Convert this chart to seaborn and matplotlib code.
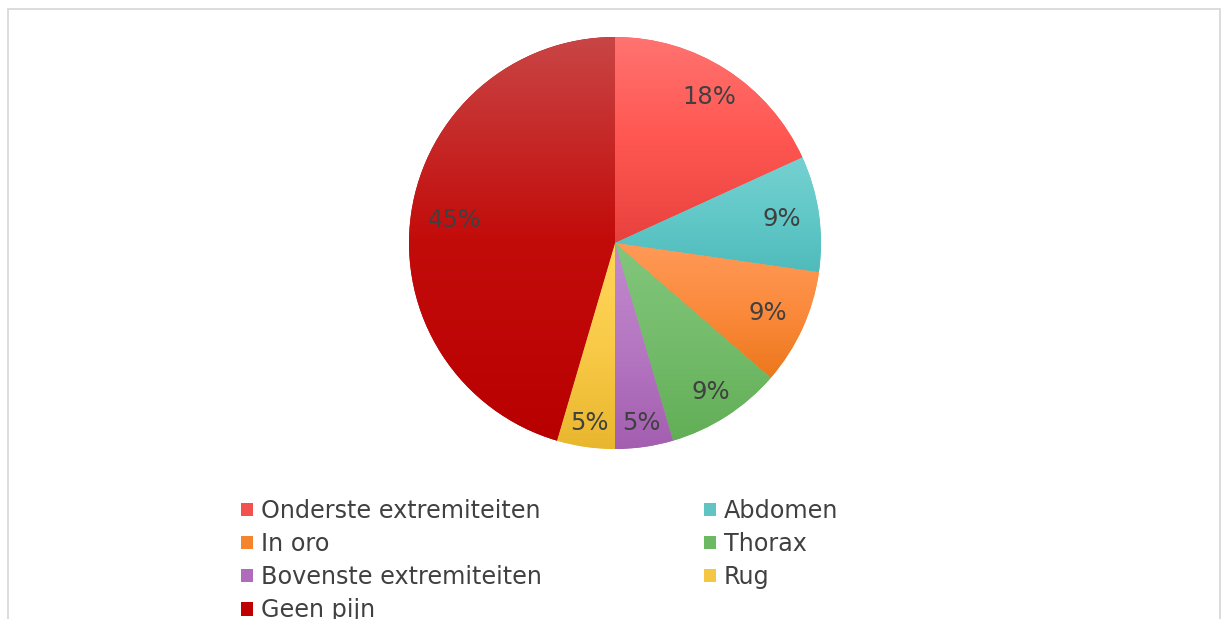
import numpy as np
import matplotlib
matplotlib.use("Agg")
import matplotlib.pyplot as plt
from matplotlib.colors import LinearSegmentedColormap
from matplotlib.patches import Rectangle, Patch
import seaborn as sns

# --- Data ----------------------------------------------------------------------------------------
categories = ["Onderste extremiteiten", "Abdomen", "In oro", "Thorax",
              "Bovenste extremiteiten", "Rug", "Geen pijn"]
counts = [4, 2, 2, 2, 1, 1, 10]

# gradient colours per slice (top -> middle -> bottom)
top_colors = ["#FF7370", "#76D1D1", "#FF9A58", "#82C67C", "#C28BCE", "#FFD65A", "#C94545"]
mid_colors = ["#FF5651", "#62C8C8", "#FB8A3C", "#74BC6B", "#B577C2", "#F9CA48", "#C20C0A"]
bottom_colors = ["#E8423E", "#50BBBB", "#EC781C", "#62AE56", "#A35EB0", "#E9B72E", "#B80000"]
legend_colors = ["#F2524E", "#60C4C4", "#F5842F", "#6CB863", "#AF6CBB", "#F4C643", "#C00000"]

# radial position of each percentage label (fraction of radius)
label_dist = [0.845, 0.82, 0.815, 0.86, 0.885, 0.885, 0.787]

sns.set_theme(style="white")
plt.rcParams["font.family"] = ["DejaVu Sans"]

W, H = 1221, 619
fig = plt.figure(figsize=(W / 100, H / 100), dpi=100)
fig.patch.set_facecolor("white")

# chart frame
fig.patches.append(Rectangle((8 / W, -0.1), (1220 - 8) / W, 1.1 - 8.5 / H,
                             transform=fig.transFigure, fill=False,
                             edgecolor="#D9D9D9", linewidth=1.3))

cx, cy, R = 615, 243, 206
ax = fig.add_axes([(cx - R) / W, (H - cy - R) / H, 2 * R / W, 2 * R / H])

wedges, texts, autotexts = ax.pie(
    counts, startangle=90, counterclock=False, radius=1,
    colors=legend_colors, autopct=lambda p: f"{p:.0f}%",
    pctdistance=0.8, wedgeprops=dict(linewidth=0),
    textprops=dict(color="#404040", fontsize=17.5),
)

# vertical gradient inside each slice
for w, c_top, c_mid, c_bot in zip(wedges, top_colors, mid_colors, bottom_colors):
    th = np.linspace(np.radians(w.theta1), np.radians(w.theta2), 100)
    xs = np.concatenate([[0], np.cos(th)])
    ys = np.concatenate([[0], np.sin(th)])
    cmap = LinearSegmentedColormap.from_list("g", [c_bot, c_mid, c_top])
    grad = np.linspace(1, 0, 256).reshape(-1, 1)
    im = ax.imshow(grad, cmap=cmap, aspect="auto", vmin=0, vmax=1,
                   extent=[xs.min(), xs.max(), ys.min(), ys.max()], zorder=1.5)
    im.set_clip_path(w)

for t, d, w in zip(autotexts, label_dist, wedges):
    ang = np.radians((w.theta1 + w.theta2) / 2)
    t.set_position((d * np.cos(ang), d * np.sin(ang)))
    t.set_zorder(5)

ax.set_xlim(-1, 1)
ax.set_ylim(-1, 1)
ax.set_aspect("equal")
ax.axis("off")

# legend filled row by row: Onderste, Abdomen / In oro, Thorax / ...
order = [0, 2, 4, 6, 1, 3, 5]
handles = [Patch(facecolor=legend_colors[i], edgecolor="none") for i in order]
labels = [categories[i] for i in order]
fig.legend(handles, labels, ncol=2, loc="upper left",
           bbox_to_anchor=(241 / W, 1 - 499 / H), frameon=False,
           fontsize=17.2, handlelength=0.5, handleheight=0.5, handletextpad=0.33,
           columnspacing=6.8, labelspacing=0.38, labelcolor="#404040",
           borderaxespad=0, borderpad=0)

fig.savefig("out.png", dpi=100)
